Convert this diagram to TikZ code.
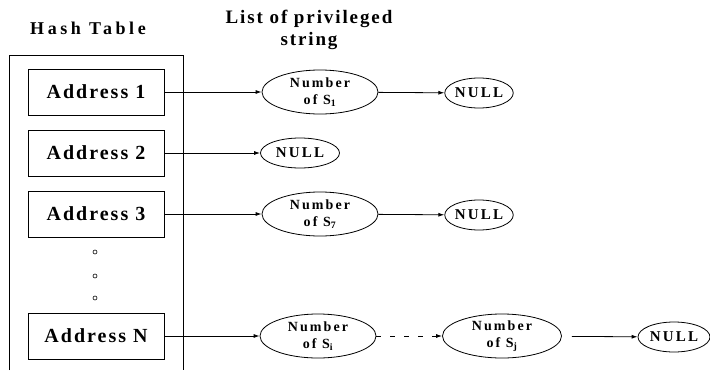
\documentclass[tikz,border=0pt]{standalone}
\usepackage{fontspec}
\setmainfont{Liberation Serif}
\usetikzlibrary{shapes.geometric,arrows.meta}
\tikzset{addr/.style={draw, line width=0.8pt, minimum width=136pt, minimum height=46pt, inner sep=0pt,
  font=\bfseries\fontsize{20}{22}\selectfont\addfontfeature{LetterSpace=10}},
strnode/.style={ellipse, draw, line width=0.8pt, minimum width=116pt, minimum height=44pt, inner sep=0pt, align=center,
  font=\bfseries\fontsize{14}{17}\selectfont\addfontfeature{LetterSpace=15}},
%NULL ellipse, width given as argument
nullnode/.style={ellipse, draw, line width=0.8pt, minimum width=#1, minimum height=30pt, inner sep=0pt,
  font=\bfseries\fontsize{15}{17}\selectfont\addfontfeature{LetterSpace=15}},
nullnode/.default={68pt},
link/.style={line width=0.8pt, -{Latex[length=6pt,width=4pt]}}}

\begin{document}
\begin{tikzpicture}[x=1pt, y=-1pt]
\useasboundingbox (0,0) rectangle (710,370);
\node[font=\bfseries\fontsize{18}{20}\selectfont\addfontfeature{LetterSpace=20}] (title) at (88,28) {Hash Table};
\node[align=center, font=\bfseries\fontsize{19}{22}\selectfont\addfontfeature{LetterSpace=10}] (listtitle) at (309,30) {List of privileged\\ string};
%hash table frame, open at the bottom
\draw[line width=0.8pt] (9,370) -- (9,55) -- (183,55) -- (183,370);
\node[addr] (a1) at (96,92) {Address 1};
\node[addr] (a2) at (96,153) {Address 2};
\node[addr] (a3) at (96,214) {Address 3};
\node[addr] (aN) at (96,336) {Address N};
\foreach \y [count=\i] in {252,276,298}
  \node[circle, draw, line width=0.6pt, minimum size=4pt, inner sep=0pt] (dot\i) at (95,\y) {};
%row 1
\node[strnode] (s1) at (320,92) {Number\\ of S\textsubscript{1}};
\node[nullnode] (null1) at (479,93) {NULL};
\draw[link] (a1) -- (s1);
\draw[link] (s1) -- (null1);
%row 2
\node[nullnode=79pt] (null2) at (300,153) {NULL};
\draw[link] (a2) -- (null2);
%row 3
\node[strnode] (s7) at (320,214) {Number\\ of S\textsubscript{7}};
\node[nullnode] (null3) at (479,215) {NULL};
\draw[link] (a3) -- (s7);
\draw[link] (s7) -- (null3);
%row N
\node[strnode] (si) at (318,336) {Number\\ of S\textsubscript{i}};
\node[strnode, minimum width=119pt] (sj) at (502,336) {Number\\ of S\textsubscript{j}};
\node[nullnode=72pt] (null4) at (674,337) {NULL};
\draw[link] (aN) -- (si);
\draw[link, dash pattern=on 5pt off 9pt] (si) -- (sj);
\draw[link, shorten <=10pt] (sj) -- (null4);
\end{tikzpicture}
\end{document}
